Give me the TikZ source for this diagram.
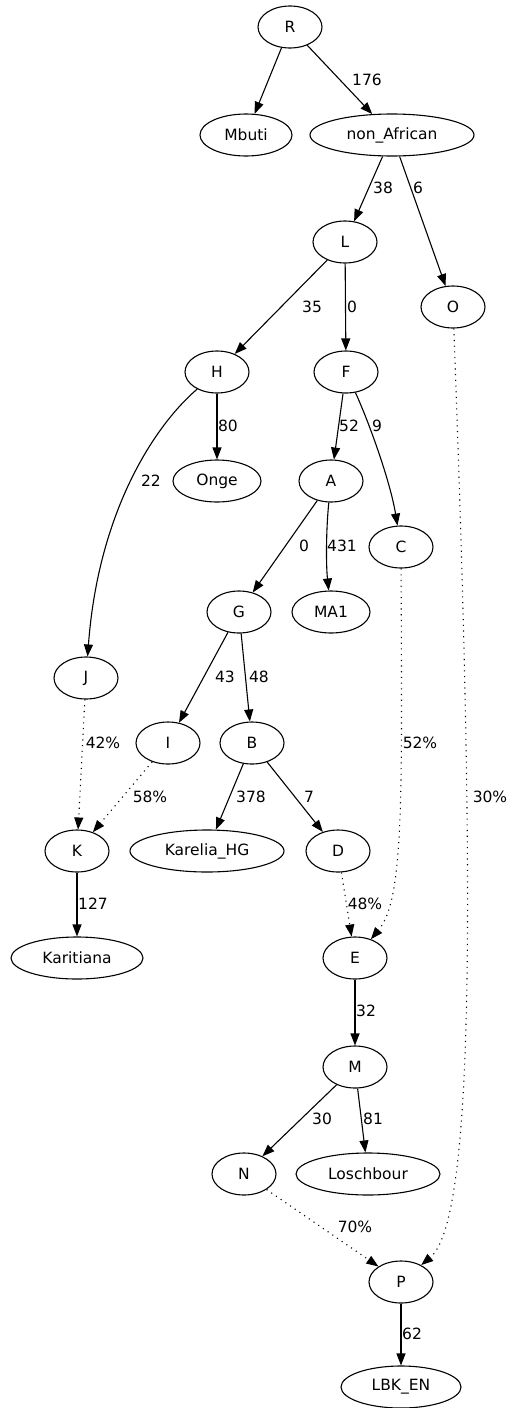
\documentclass[tikz,border=0pt]{standalone}
\usepackage{fontspec}
\setmainfont{DejaVu Sans}
\usetikzlibrary{shapes.geometric,arrows.meta}
\begin{document}
\begin{tikzpicture}[x=1pt,y=-1pt,
  every node/.style={font=\fontsize{15.5}{18}\selectfont},
  nd/.style={draw,ellipse,line width=1.1pt,inner sep=0pt,minimum height=42pt,minimum width=64pt},
  edge/.style={line width=1.1pt,-{Triangle[length=12pt,width=9pt]}},
  mix/.style={edge,dash pattern=on 1.1pt off 4.6pt},
  lbl/.style={inner sep=0pt}]
\useasboundingbox (0,0) rectangle (515,1408);
% nodes
\node[nd] (R) at (290,27) {R};
\node[nd,minimum width=92pt] (Mbuti) at (246,135) {Mbuti};
\node[nd,minimum width=164pt] (nA) at (392,135) {non\_African};
\node[nd] (L) at (345,242) {L};
\node[nd] (O) at (453,307) {O};
\node[nd] (H) at (217,372) {H};
\node[nd] (F) at (346,372) {F};
\node[nd,minimum width=88pt] (Onge) at (217,481) {Onge};
\node[nd] (A) at (331,481) {A};
\node[nd] (C) at (401,547) {C};
\node[nd] (G) at (239,612) {G};
\node[nd,minimum width=78pt] (MA1) at (331,612) {MA1};
\node[nd] (J) at (86,678) {J};
\node[nd] (I) at (168,743) {I};
\node[nd] (B) at (252,743) {B};
\node[nd] (K) at (77,851) {K};
\node[nd,minimum width=154pt] (Kar) at (207,851) {Karelia\_HG};
\node[nd] (D) at (338,851) {D};
\node[nd,minimum width=132pt] (Kari) at (77,958) {Karitiana};
\node[nd] (E) at (355,958) {E};
\node[nd] (M) at (355,1067) {M};
\node[nd] (N) at (244,1174) {N};
\node[nd,minimum width=144pt] (Losch) at (368,1174) {Loschbour};
\node[nd] (P) at (401,1282) {P};
\node[nd,minimum width=120pt] (LBK) at (401,1387) {LBK\_EN};
% edges
\draw[edge] (R) -- (Mbuti);
\draw[edge] (R) -- (nA);
\draw[edge] (nA) -- (L);
\draw[edge] (nA) -- (O);
\draw[edge] (L) -- (H);
\draw[edge] (L) -- (F);
\draw[edge] (H) -- (Onge);
\draw[edge] (H) .. controls (152,428) and (98,515) .. (J);
\draw[edge] (F) -- (A);
\draw[edge] (F) .. controls (368,420) and (390,480) .. (C);
\draw[edge] (A) -- (G);
\draw[edge] (A) .. controls (326,530) and (326,565) .. (MA1);
\draw[edge] (G) -- (I);
\draw[edge] (G) -- (B);
\draw[mix] (J) -- (K);
\draw[mix] (I) -- (K);
\draw[edge] (B) -- (Kar);
\draw[edge] (B) -- (D);
\draw[mix] (C) .. controls (402,800) and (404,900) .. (E);
\draw[mix] (D) -- (E);
\draw[mix] (O) .. controls (475,900) and (475,1220) .. (P);
\draw[edge] (K) -- (Kari);
\draw[edge] (E) -- (M);
\draw[edge] (M) -- (N);
\draw[edge] (M) -- (Losch);
\draw[mix] (N) -- (P);
\draw[edge] (P) -- (LBK);
% labels
\node[lbl] (l1) at (367,80) {176};
\node[lbl] (l2) at (383,188) {38};
\node[lbl] (l3) at (418,188) {6};
\node[lbl] (l4) at (312,307) {35};
\node[lbl] (l5) at (352,307) {0};
\node[lbl] (l6) at (228,426) {80};
\node[lbl] (l7) at (349,426) {52};
\node[lbl] (l8) at (377,426) {9};
\node[lbl] (l9) at (151,481) {22};
\node[lbl] (l10) at (304,546) {0};
\node[lbl] (l11) at (342,546) {431};
\node[lbl] (l12) at (225,677) {43};
\node[lbl] (l13) at (259,677) {48};
\node[lbl] (l14) at (103,743) {42\%};
\node[lbl] (l15) at (420,743) {52\%};
\node[lbl] (l16) at (150,797) {58\%};
\node[lbl] (l17) at (251,797) {378};
\node[lbl] (l18) at (309,797) {7};
\node[lbl] (l19) at (490,797) {30\%};
\node[lbl] (l20) at (93,904) {127};
\node[lbl] (l21) at (365,904) {48\%};
\node[lbl] (l22) at (366,1011) {32};
\node[lbl] (l23) at (322,1119) {30};
\node[lbl] (l24) at (373,1119) {81};
\node[lbl] (l25) at (355,1227) {70\%};
\node[lbl] (l26) at (412,1334) {62};
\end{tikzpicture}
\end{document}
